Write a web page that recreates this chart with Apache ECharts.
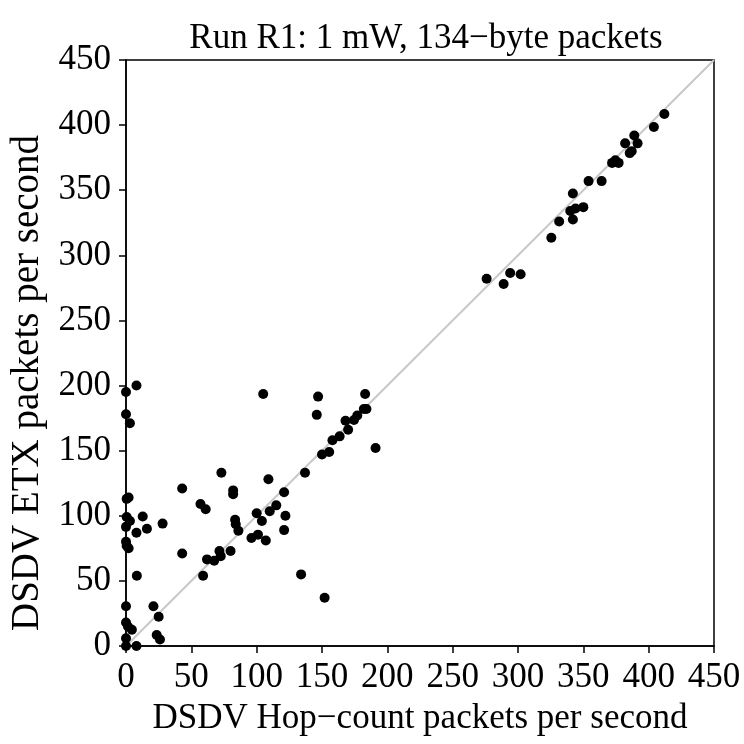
<!DOCTYPE html>
<html>
<head>
<meta charset="utf-8">
<title>Run R1</title>
<script src="https://cdn.jsdelivr.net/npm/echarts@6/dist/echarts.min.js"></script>
<style>
  html, body { margin: 0; padding: 0; background: #fff; }
  #chart { width: 744px; height: 744px; }
</style>
</head>
<body>
<div id="chart"></div>
<script>
// packets per second, one entry per link
const hopCount = [
  0, 8, 0, 3, 0.5, 2, 0.5, 3, 12.8, 0, 28, 16, 8, 0, 0.5, 2, 8.3, 0, 21, 25, 0, 1.5, 4.5, 0, 23.5, 26, 0, 8,
  43, 43, 57, 61, 73, 82, 82, 83.5, 84, 86, 59, 62, 67.5, 71.5, 72.5, 80, 96, 101, 100, 107, 104, 110, 115,
  109, 121, 122, 121, 105, 134, 152, 137, 147, 146, 150, 155.5, 158, 163.5, 168, 170, 174.5, 177, 182, 184,
  183, 191,
  276, 289, 294, 302, 325.5, 331.5, 342, 342, 340, 344, 350, 354, 364, 372, 374.5, 377, 382, 389, 391.5,
  385.5, 387, 404, 412
]
const etx = [
  195, 200, 178, 171, 113, 114, 99, 96, 99.5, 91.5, 94, 90, 87, 80, 77, 75, 54, 30.5, 30.5, 22.5, 18, 15, 12.5, 6, 8.5, 5, 0, 0,
  121, 71, 109, 105, 133, 119.5, 116.5, 97, 93.5, 88.5, 54, 66.5, 65.5, 73, 69, 73, 83, 85.5, 102, 81, 96, 103.5, 108,
  128, 118, 100, 89, 193.5, 55, 37, 133, 191.5, 177.5, 147, 149, 158, 161, 173, 166, 173.5, 177, 182, 182,
  193.5, 152,
  282, 278, 286.5, 285.5, 313.5, 326, 347.5, 327.5, 334, 336, 337, 357, 357, 371, 373, 371, 386, 392, 386,
  378.5, 380, 398.5, 408.5
]
const axisMin = 0
const axisMax = 450
const axisStep = 50

const points = hopCount.map((x, i) => [x, etx[i]])
const serif = 'Liberation Serif'

const chart = echarts.init(document.getElementById('chart'))
chart.setOption({
  animation: false,
  textStyle: { fontFamily: serif },
  title: {
    text: 'Run R1: 1 mW, 134\u2212byte packets',
    left: 421,
    textAlign: 'center',
    top: 16,
    textStyle: { fontFamily: serif, fontSize: 35, fontWeight: 'normal', color: '#000' }
  },
  grid: {
    left: 126, right: 30, top: 60, bottom: 98,
    show: true, borderColor: '#000', borderWidth: 1.5, backgroundColor: 'transparent'
  },
  xAxis: {
    type: 'value', min: axisMin, max: axisMax, interval: axisStep,
    name: 'DSDV Hop\u2212count packets per second',
    nameLocation: 'middle', nameGap: 55,
    nameTextStyle: { fontFamily: serif, fontSize: 35, color: '#000' },
    axisLine: { show: true, onZero: false, lineStyle: { color: '#000', width: 1.5 } },
    axisTick: { show: true, length: 7, lineStyle: { color: '#000', width: 1.5 } },
    axisLabel: { fontFamily: serif, fontSize: 35, color: '#000', margin: 14 },
    splitLine: { show: false }
  },
  yAxis: {
    type: 'value', min: axisMin, max: axisMax, interval: axisStep,
    name: 'DSDV ETX packets per second',
    nameLocation: 'middle', nameGap: 77,
    nameTextStyle: { fontFamily: serif, fontSize: 39, color: '#000', padding: [0, 60, 0, 0] },
    axisLine: { show: true, onZero: false, lineStyle: { color: '#000', width: 1.5 } },
    axisTick: { show: true, length: 7, lineStyle: { color: '#000', width: 1.5 } },
    axisLabel: { fontFamily: serif, fontSize: 35, color: '#000', margin: 15 },
    splitLine: { show: false }
  },
  series: [
    {
      // y = x reference line
      type: 'line',
      data: [[axisMin, axisMin], [axisMax, axisMax]],
      showSymbol: false,
      symbol: 'none',
      lineStyle: { color: '#c8c8c8', width: 2 },
      z: 1,
      silent: true
    },
    {
      type: 'scatter',
      data: points,
      symbol: 'circle',
      symbolSize: 10,
      clip: false,
      itemStyle: { color: '#000', opacity: 1 },
      z: 3
    }
  ]
})
</script>
</body>
</html>
